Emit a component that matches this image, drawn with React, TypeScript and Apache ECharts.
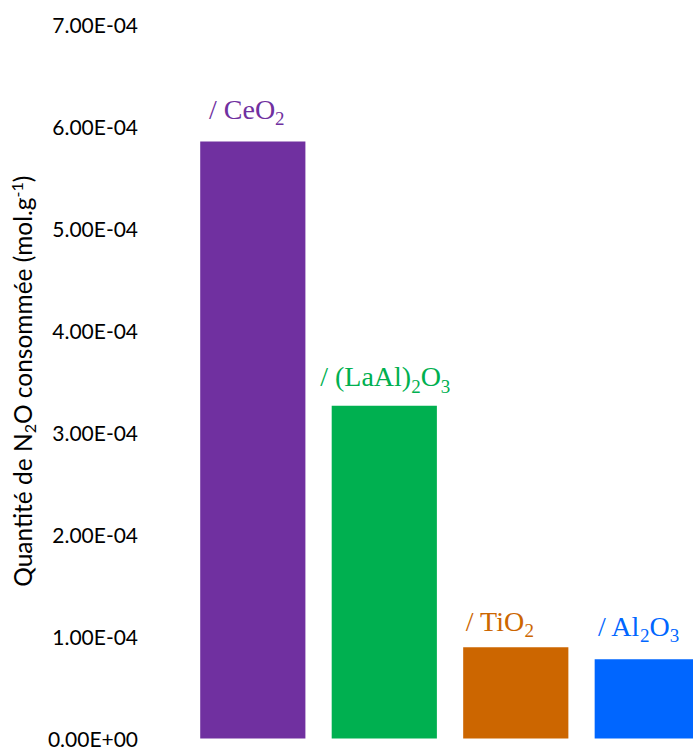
import React, { useEffect, useRef } from "react";
import * as echarts from "echarts";

const categories = ["CeO2", "(LaAl)2O3", "TiO2", "Al2O3"];
const values = [5.85e-4, 3.26e-4, 0.893e-4, 0.776e-4];
const barLabels = [
  "{a|/ CeO}{s|2}",
  "{a|/ (LaAl)}{s|2}{a|O}{s|3}",
  "{a|/ TiO}{s|2}",
  "{a|/ Al}{s|2}{a|O}{s|3}",
];
const colors = ["#7030A0", "#00B050", "#CC6600", "#0066FF"];
const labelShift = [-6, 1, -16, -9];
const labelLift = [-3, 0, 3, -4];

function fmt(v: number): string {
  if (v === 0) return "0.00E+00";
  const s = v.toExponential(2);
  const [m, e] = s.split("e");
  const n = parseInt(e, 10);
  const sign = n < 0 ? "-" : "+";
  const abs = Math.abs(n);
  return m + "E" + sign + (abs < 10 ? "0" + abs : String(abs));
}

export default function App() {
  const ref = useRef<HTMLDivElement>(null);
  useEffect(() => {
    if (!ref.current) return;
    const chart = echarts.init(ref.current, undefined, { renderer: "svg" });
    const serif = "'Liberation Serif', 'Times New Roman', serif";
    chart.setOption({
      animation: false,
      backgroundColor: "#ffffff",
      grid: { left: 181, right: 0, top: 24, bottom: 7.5, containLabel: false },
      xAxis: {
        type: "category",
        data: categories,
        axisLine: { show: false },
        axisTick: { show: false },
        axisLabel: { show: false },
        splitLine: { show: false },
      },
      yAxis: {
        type: "value",
        min: 0,
        max: 7e-4,
        interval: 1e-4,
        axisLine: { show: false },
        axisTick: { show: false },
        splitLine: { show: false },
        axisLabel: {
          margin: 49,
          color: "#000000",
          fontFamily: "Lato",
          fontSize: 21,
          formatter: (v: number) => fmt(v),
        },
        name: "{t|Quantité de N}{sub|2}{t|O consommée (mol.g}{sup|-1}{t|)}",
        nameLocation: "middle",
        nameGap: 145,
        nameTextStyle: {
          fontFamily: "Lato",
          fontSize: 24.5,
          color: "#000000",
          rich: {
            t: { fontFamily: "Lato", fontSize: 24.5, color: "#000000" },
            sub: { fontFamily: "Lato", fontSize: 16, color: "#000000", padding: [13, 0, 0, 0] },
            sup: { fontFamily: "Lato", fontSize: 16, color: "#000000", padding: [0, 0, 13, 0] },
          },
        },
      },
      series: [
        {
          type: "bar",
          barCategoryGap: "20%",
          data: values.map((v, i) => ({
            value: v,
            itemStyle: { color: colors[i] },
            label: {
              show: true,
              position: "top",
              distance: 10,
              offset: [labelShift[i], labelLift[i]],
              formatter: barLabels[i],
              rich: {
                a: { fontFamily: serif, fontSize: 28, color: colors[i] },
                s: { fontFamily: serif, fontSize: 19, color: colors[i], padding: [19, 0, 0, 0] },
              },
            },
          })),
        },
      ],
    });
    return () => chart.dispose();
  }, []);
  return (
    <div style={{ position: "absolute", left: 0, top: 0, width: 693, height: 749, overflow: "hidden" }}>
      <div ref={ref} style={{ width: 713, height: 749 }} />
    </div>
  );
}
